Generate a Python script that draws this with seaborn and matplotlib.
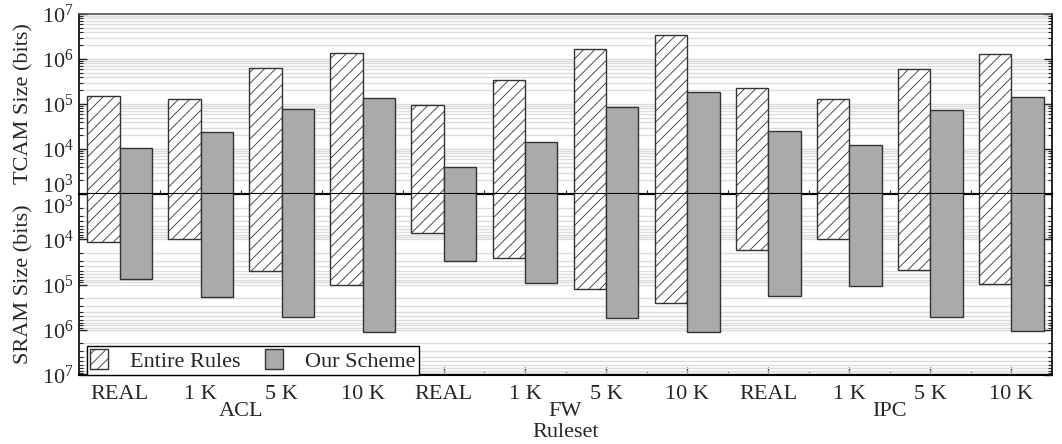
import numpy as np
import pandas as pd
import matplotlib
matplotlib.use("Agg")
import matplotlib.pyplot as plt
import matplotlib.ticker as mticker
import matplotlib.transforms as mtransforms
import seaborn as sns

# ---- data ----
groups = ["ACL", "FW", "IPC"]
sizes = ["REAL", "1 K", "5 K", "10 K"]
series = ["Entire Rules", "Our Scheme"]
tcam_entire = [1.5e5, 1.27e5, 6.3e5, 1.34e6, 9.4e4, 3.36e5, 1.64e6, 3.37e6, 2.23e5, 1.27e5, 6.1e5, 1.27e6]
tcam_ours = [1.07e4, 2.35e4, 7.6e4, 1.36e5, 3.9e3, 1.45e4, 8.7e4, 1.82e5, 2.47e4, 1.25e4, 7.25e4, 1.41e5]
sram_entire = [1.17e4, 1.0e4, 4.95e4, 1.05e5, 7.4e3, 2.64e4, 1.28e5, 2.6e5, 1.75e4, 1.0e4, 4.85e4, 9.9e4]
sram_ours = [7.7e4, 1.92e5, 5.1e5, 1.12e6, 3.07e4, 9.3e4, 5.4e5, 1.1e6, 1.8e5, 1.08e5, 5.2e5, 1.07e6]
y_ticks = [1e3, 1e4, 1e5, 1e6, 1e7]

keys = [f"{g} {s}" for g in groups for s in sizes]
tick_labels = [s for g in groups for s in sizes]

def long_df(a, b):
    return pd.DataFrame({
        "key": keys * 2,
        "series": [series[0]] * len(keys) + [series[1]] * len(keys),
        "value": list(a) + list(b),
    })

df_tcam = long_df(tcam_entire, tcam_ours)
df_sram = long_df(sram_entire, sram_ours)

# ---- style ----
sns.set_style("ticks")
plt.rcParams["font.family"] = ["Liberation Serif", "DejaVu Serif"]
plt.rcParams["mathtext.fontset"] = "custom"
plt.rcParams["mathtext.rm"] = "Liberation Serif"
plt.rcParams["mathtext.it"] = "Liberation Serif:italic"
plt.rcParams["hatch.linewidth"] = 0.6
FS = 16

fig = plt.figure(figsize=(10.62, 4.44), dpi=100)
L, R = 79 / 1062, 1052 / 1062
y_top, y_mid, y_bot = 1 - 14 / 444, 1 - 194 / 444, 1 - 375 / 444
ax_t = fig.add_axes([L, y_mid, R - L, y_top - y_mid])
ax_b = fig.add_axes([L, y_bot, R - L, y_mid - y_bot])

palette = {series[0]: "white", series[1]: "#aaaaaa"}
EDGE = "#333333"


def sci(v):
    return r"$\mathdefault{10^{%d}}$" % int(round(np.log10(v)))


def fmt_skip_low(v, pos):
    # the 10^3 labels at the shared middle line are placed separately below
    return "" if np.isclose(v, 1e3) else sci(v)


for ax, df in ((ax_t, df_tcam), (ax_b, df_sram)):
    ax.set_yscale("log")
    sns.barplot(data=df, x="key", y="value", hue="series", order=keys,
                hue_order=series, palette=palette, width=0.8, gap=0,
                edgecolor=EDGE, linewidth=1.0, legend=False, ax=ax,
                zorder=3)
    for bar in ax.containers[0]:
        bar.set_hatch("///")
        bar.set_edgecolor(EDGE)
    ax.set_xlim(-0.5, len(keys) - 0.5)
    ax.set_xlabel("")
    ax.set_ylabel("")
    ax.set_axisbelow(True)
    ax.yaxis.grid(True, which="both", color="#dcdcdc", lw=1.0, zorder=0)
    ax.xaxis.grid(False)
    ax.yaxis.set_major_locator(mticker.FixedLocator(y_ticks))
    ax.yaxis.set_minor_locator(mticker.LogLocator(base=10, subs=np.arange(2, 10), numticks=20))
    ax.yaxis.set_minor_formatter(mticker.NullFormatter())
    ax.yaxis.set_major_formatter(mticker.FuncFormatter(fmt_skip_low))
    ax.tick_params(axis="y", which="major", direction="in", length=6, width=1,
                   left=True, right=True, labelsize=FS, pad=4)
    ax.tick_params(axis="y", which="minor", direction="in", length=3, width=0.8,
                   left=True, right=True)
    ax.set_xticks(range(len(keys)))
    ax.xaxis.set_minor_locator(mticker.FixedLocator(np.arange(0.5, len(keys) - 1, 1.0)))
    ax.tick_params(axis="x", which="major", direction="in", length=6, width=1,
                   bottom=True, top=False)
    ax.tick_params(axis="x", which="minor", direction="in", length=3, width=0.8,
                   bottom=True, top=False)
    for side in ("left", "right", "top", "bottom"):
        ax.spines[side].set_visible(True)
        ax.spines[side].set_color("black")
        ax.spines[side].set_linewidth(1.2)

ax_t.set_ylim(1e3, 1e7)
ax_b.set_ylim(1e7, 1e3)
ax_t.spines["top"].set_color("#555555")
ax_t.spines["bottom"].set_linewidth(1.5)
ax_b.spines["top"].set_linewidth(1.5)
ax_b.spines["bottom"].set_linewidth(1.5)
ax_t.set_xticklabels([])
ax_t.tick_params(axis="x", which="major", length=0)
ax_b.set_xticklabels(tick_labels, fontsize=FS)
ax_b.tick_params(axis="x", which="major", pad=7)

# 10^3 labels on either side of the middle line
ax_t.annotate(sci(y_ticks[0]), xy=(0, y_ticks[0]), xycoords=("axes fraction", "data"),
              xytext=(-4, 1.0), textcoords="offset points", ha="right",
              va="baseline", fontsize=FS)
ax_b.annotate(sci(y_ticks[0]), xy=(0, y_ticks[0]), xycoords=("axes fraction", "data"),
              xytext=(-4, -1.5), textcoords="offset points", ha="right",
              va="top", fontsize=FS)

# group labels
trans = mtransforms.blended_transform_factory(ax_b.transData, fig.transFigure)
for i, g in enumerate(groups):
    ax_b.text(i * 4 + 1.5, 1 - 411 / 444, g, transform=trans, ha="center",
              va="center", fontsize=FS)
fig.text((L + R) / 2, 1 - 432 / 444, "Ruleset", ha="center", va="center", fontsize=FS)

fig.text(24 / 1062, (y_top + y_mid) / 2, "TCAM Size (bits)", rotation=90,
         ha="center", va="center", fontsize=FS)
fig.text(24 / 1062, (y_mid + y_bot) / 2, "SRAM Size (bits)", rotation=90,
         ha="center", va="center", fontsize=FS)

handles = [ax_b.containers[0][0], ax_b.containers[1][0]]
leg = ax_b.legend(handles, series, loc="lower left", bbox_to_anchor=(0.008, 0.0),
                  borderaxespad=0, ncol=2, fontsize=FS, frameon=True, fancybox=False,
                  framealpha=1, edgecolor="black", handlelength=0.8,
                  handleheight=1.0, handletextpad=1.0, columnspacing=1.1,
                  borderpad=0.15)
leg.get_frame().set_linewidth(1.0)
leg.set_zorder(5)

fig.savefig("out.png", dpi=100)
